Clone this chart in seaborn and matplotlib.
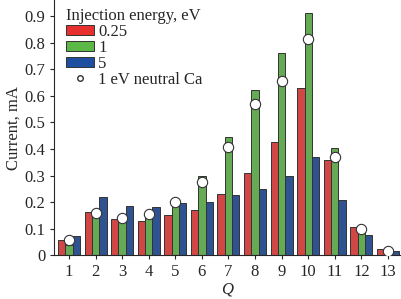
import numpy as np
import pandas as pd
import matplotlib
matplotlib.use('Agg')
import matplotlib.pyplot as plt
import seaborn as sns
from matplotlib.lines import Line2D

Q = [str(i) for i in range(1, 14)]
e025 = [0.056, 0.162, 0.136, 0.131, 0.150, 0.169, 0.229, 0.308, 0.425, 0.628, 0.357, 0.108, 0.023]
e1 = [0.040, 0.155, 0.130, 0.145, 0.190, 0.299, 0.446, 0.621, 0.759, 0.910, 0.402, 0.090, 0.010]
e5 = [0.074, 0.219, 0.184, 0.180, 0.195, 0.199, 0.228, 0.248, 0.297, 0.368, 0.207, 0.078, 0.016]
neutral_ca = [0.056, 0.160, 0.140, 0.154, 0.199, 0.274, 0.408, 0.569, 0.655, 0.812, 0.371, 0.098, 0.017]
energies = ['0.25', '1', '5']

sns.set_style('ticks')
plt.rcParams['font.family'] = ['Liberation Serif', 'DejaVu Serif']
plt.rcParams['font.size'] = 12

df = pd.DataFrame({'Q': Q * 3,
                   'current': e025 + e1 + e5,
                   'energy': [e for e in energies for _ in Q]})

fig = plt.figure(figsize=(4.02, 2.99), dpi=100)
ax = fig.add_axes([0.134, 0.146, 0.864, 0.854])
palette = ['#e8302e', '#5cb846', '#1f4fa0']
sns.barplot(data=df, x='Q', y='current', hue='energy', palette=palette,
            width=0.83, edgecolor='#333333', linewidth=0.7, ax=ax, legend=False)
ax.scatter(np.arange(len(Q)), neutral_ca, s=55, facecolor='white',
           edgecolor='#333333', linewidth=0.8, zorder=5)

ax.set_xlim(-0.57, 12.5)
ax.set_ylim(0, 0.96)
ax.set_yticks(np.arange(0, 0.91, 0.1))
ax.set_yticklabels(['0'] + ['%.1f' % v for v in np.arange(0.1, 0.91, 0.1)])
ax.set_xlabel('Q', style='italic', labelpad=1.5)
ax.set_ylabel('Current, mA', labelpad=2)
ax.tick_params(length=3, width=0.8, pad=3)
sns.despine(ax=ax)

handles = [plt.Rectangle((0, 0), 1, 1, facecolor=c, edgecolor='#333333', linewidth=0.7)
           for c in palette]
handles.append(Line2D([], [], marker='o', linestyle='none', markersize=4,
                      markerfacecolor='white', markeredgecolor='#333333'))
leg = ax.legend(handles, energies + ['1 eV neutral Ca'], title='Injection energy, eV',
                loc='upper left', bbox_to_anchor=(0.0, 1.015), frameon=False,
                handlelength=1.7, handleheight=0.6, handletextpad=0.25,
                labelspacing=0.0, borderaxespad=0.3, title_fontsize=12)
leg._legend_box.align = 'left'

fig.savefig('out.png', dpi=100)
